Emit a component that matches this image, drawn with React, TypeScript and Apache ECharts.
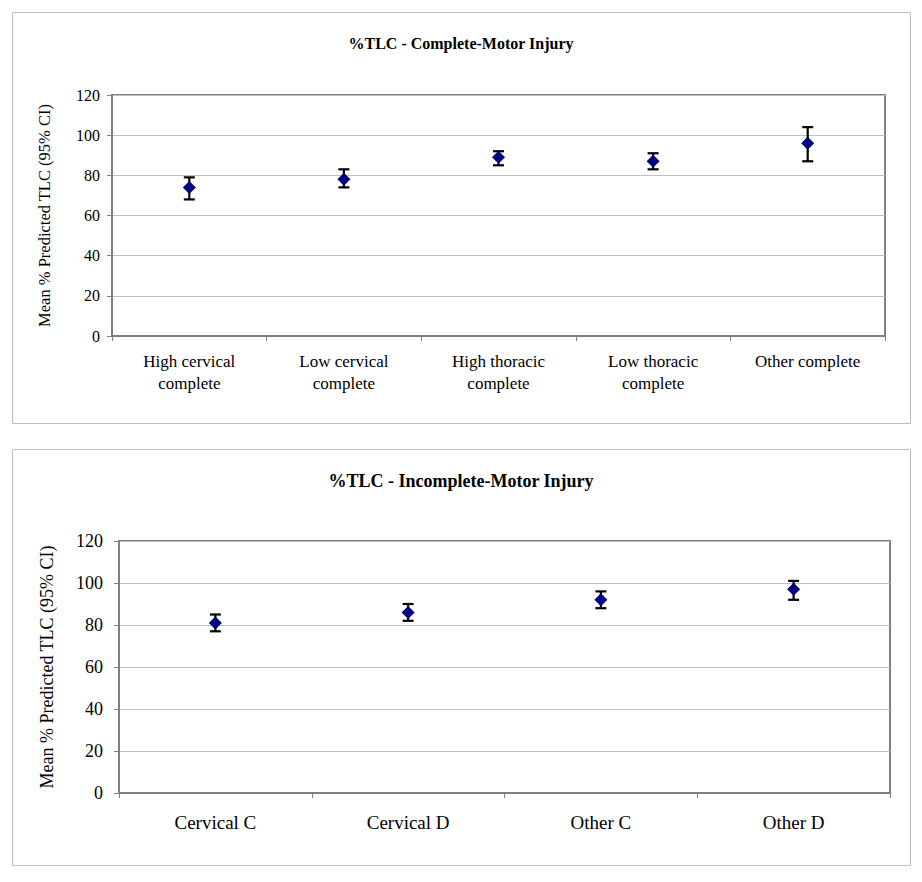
import React, { useEffect, useRef } from "react";
import * as echarts from "echarts";

const topTitle = "%TLC - Complete-Motor Injury";
const bottomTitle = "%TLC - Incomplete-Motor Injury";
const yName = "Mean % Predicted TLC (95% CI)";

const topCategories = [
  "High cervical\ncomplete",
  "Low cervical\ncomplete",
  "High thoracic\ncomplete",
  "Low thoracic\ncomplete",
  "Other complete",
];
const topMeans = [74, 78, 89, 87, 96];
const topLower = [68, 74, 85, 83, 87];
const topUpper = [79, 83, 92, 91, 104];

const bottomCategories = ["Cervical C", "Cervical D", "Other C", "Other D"];
const bottomMeans = [81, 86, 92, 97];
const bottomLower = [77, 82, 88, 92];
const bottomUpper = [85, 90, 96, 101];

const FONT = "'Liberation Serif', 'Times New Roman', serif";

function errorBarRender(params: any, api: any) {
  const x = api.value(0);
  const lo = api.coord([x, api.value(1)]);
  const hi = api.coord([x, api.value(2)]);
  const half = 5.5;
  const style = { stroke: "#000000", lineWidth: 2.2 };
  return {
    type: "group",
    children: [
      { type: "line", shape: { x1: lo[0], y1: lo[1], x2: hi[0], y2: hi[1] }, style },
      { type: "line", shape: { x1: lo[0] - half, y1: lo[1], x2: lo[0] + half, y2: lo[1] }, style },
      { type: "line", shape: { x1: hi[0] - half, y1: hi[1], x2: hi[0] + half, y2: hi[1] }, style },
    ],
  };
}

export default function App() {
  const ref = useRef<HTMLDivElement>(null);
  useEffect(() => {
    if (!ref.current) return;
    const chart = echarts.init(ref.current, undefined, { renderer: "svg" });
    const mkY = (gridIndex: number, fs: number, nameFs: number, gap: number, margin: number) => ({
      type: "value",
      gridIndex,
      min: 0,
      max: 120,
      interval: 20,
      name: yName,
      nameLocation: "middle",
      nameGap: gap,
      nameTextStyle: { fontFamily: FONT, fontSize: nameFs, color: "#000" },
      axisLine: { show: true, lineStyle: { color: "#808080", width: 1 } },
      axisTick: { show: true, length: 5, lineStyle: { color: "#808080" } },
      axisLabel: { fontFamily: FONT, fontSize: fs, color: "#000", margin },
      splitLine: { show: true, lineStyle: { color: "#c0c0c0", width: 1 } },
    });
    const mkX = (gridIndex: number, data: string[], fs: number, lh: number, margin: number) => ({
      type: "category",
      gridIndex,
      data,
      boundaryGap: true,
      axisLine: { show: true, lineStyle: { color: "#808080", width: 1 } },
      axisTick: { show: true, length: 5, alignWithLabel: false, lineStyle: { color: "#808080" } },
      axisLabel: { fontFamily: FONT, fontSize: fs, color: "#000", margin, lineHeight: lh, interval: 0 },
      splitLine: { show: false },
    });
    chart.setOption({
      animation: false,
      backgroundColor: "#ffffff",
      textStyle: { fontFamily: FONT },
      title: [
        {
          text: topTitle,
          left: "center",
          top: 30,
          textStyle: { fontFamily: FONT, fontSize: 16, fontWeight: "bold", color: "#000" },
        },
        {
          text: bottomTitle,
          left: "center",
          top: 467,
          textStyle: { fontFamily: FONT, fontSize: 18, fontWeight: "bold", color: "#000" },
        },
      ],
      graphic: [
        {
          type: "rect",
          shape: { x: 12.5, y: 12.5, width: 898, height: 411 },
          style: { fill: "none", stroke: "#bdbdbd", lineWidth: 1 },
          silent: true,
        },
        {
          type: "rect",
          shape: { x: 12.5, y: 449.5, width: 898, height: 416 },
          style: { fill: "none", stroke: "#bdbdbd", lineWidth: 1 },
          silent: true,
        },
      ],
      grid: [
        { left: 112, top: 95, right: 37, height: 241, show: true, borderColor: "#808080", borderWidth: 2, backgroundColor: "transparent" },
        { left: 119, top: 541, right: 32, height: 252, show: true, borderColor: "#808080", borderWidth: 2, backgroundColor: "transparent" },
      ],
      xAxis: [mkX(0, topCategories, 17, 22, 14), mkX(1, bottomCategories, 19, 20, 19)],
      yAxis: [mkY(0, 16, 16.5, 59, 12), mkY(1, 18, 18, 63, 16)],
      series: [
        {
          type: "custom",
          xAxisIndex: 0,
          yAxisIndex: 0,
          renderItem: errorBarRender,
          data: topCategories.map((_, i) => [i, topLower[i], topUpper[i]]),
          z: 2,
          silent: true,
        },
        {
          type: "scatter",
          xAxisIndex: 0,
          yAxisIndex: 0,
          data: topMeans,
          symbol: "diamond",
          symbolSize: [13, 13],
          itemStyle: { color: "#000080", opacity: 1 },
          z: 3,
        },
        {
          type: "custom",
          xAxisIndex: 1,
          yAxisIndex: 1,
          renderItem: errorBarRender,
          data: bottomCategories.map((_, i) => [i, bottomLower[i], bottomUpper[i]]),
          z: 2,
          silent: true,
        },
        {
          type: "scatter",
          xAxisIndex: 1,
          yAxisIndex: 1,
          data: bottomMeans,
          symbol: "diamond",
          symbolSize: [13, 13],
          itemStyle: { color: "#000080", opacity: 1 },
          z: 3,
        },
      ],
    });
    return () => chart.dispose();
  }, []);
  return (
    <div
      ref={ref}
      style={{ position: "absolute", left: 0, top: 0, width: 922, height: 882 }}
    />
  );
}
